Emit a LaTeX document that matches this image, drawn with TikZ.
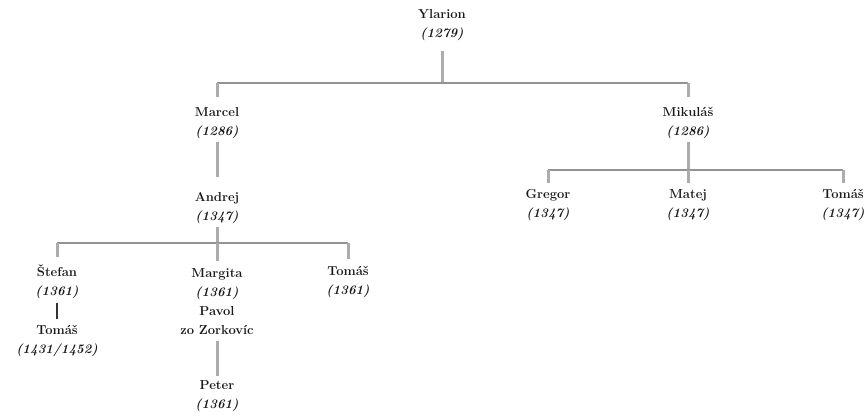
\documentclass[tikz,border=0pt]{standalone}
\begin{document}
\begin{tikzpicture}[x=1pt,y=-1pt,
  person/.style={align=center, inner sep=0pt, text=black!90, font=\fontsize{13}{19}\selectfont\bfseries},
  vline/.style={draw=gray!65, line width=3pt},
  hline/.style={draw=gray!85, line width=1.1pt},
  sline/.style={draw=black!80, line width=1.3pt}]
\useasboundingbox (0,0) rectangle (864,418);
% persons
\node[person] (yl) at (442,25) {Ylarion\\\textit{(1279)}};
\node[person] (marcel) at (217,123) {Marcel\\\textit{(1286)}};
\node[person] (mikulas) at (688,123) {Mikuláš\\\textit{(1286)}};
\node[person] (andrej) at (217,208) {Andrej\\\textit{(1347)}};
\node[person] (stefan) at (57,282) {Štefan\\\textit{(1361)}};
\node[person] (margita) at (217,301.5) {Margita\\\textit{(1361)}\\Pavol\\zo Zorkovíc};
\node[person] (tomasA) at (348,282) {Tomáš\\\textit{(1361)}};
\node[person] (tomasB) at (57,341) {Tomáš\\\textit{(1431/1452)}};
\node[person] (peter) at (217,396) {Peter\\\textit{(1361)}};
\node[person] (gregor) at (548,205) {Gregor\\\textit{(1347)}};
\node[person] (matej) at (688,205) {Matej\\\textit{(1347)}};
\node[person] (tomasC) at (843,205) {Tomáš\\\textit{(1347)}};
% junctions
\coordinate (j1) at (442,83);
\coordinate (j2) at (217,243);
\coordinate (j3) at (688,170);
% Ylarion family
\draw[vline, shorten <=10.5pt] (yl.south) -- (j1);
\draw[hline] (marcel.north |- j1) -- (mikulas.north |- j1);
\draw[vline, shorten >=10.5pt] (marcel.north |- j1) -- (marcel.north);
\draw[vline, shorten >=10.5pt] (mikulas.north |- j1) -- (mikulas.north);
% Marcel line
\draw[vline, shorten <=3.5pt, shorten >=15.5pt] (marcel.south) -- (andrej.north);
\draw[vline, shorten <=3.5pt] (andrej.south) -- (j2);
\draw[hline] (stefan.north |- j2) -- (tomasA.north |- j2);
\draw[vline, shorten >=7.5pt] (stefan.north |- j2) -- (stefan.north);
\draw[vline, shorten >=7pt] (j2) -- (margita.north);
\draw[vline, shorten >=7.5pt] (tomasA.north |- j2) -- (tomasA.north);
\draw[sline, shorten <=3.5pt, shorten >=6.5pt] (stefan.south) -- (tomasB.north);
\draw[vline, shorten <=6pt, shorten >=4.5pt] (margita.south) -- (peter.north);
% Mikulas line
\draw[vline, shorten <=3.5pt] (mikulas.south) -- (j3);
\draw[hline] (gregor.north |- j3) -- (tomasC.north |- j3);
\draw[vline, shorten >=6.5pt] (gregor.north |- j3) -- (gregor.north);
\draw[vline, shorten >=6.5pt] (j3) -- (matej.north);
\draw[vline, shorten >=6.5pt] (tomasC.north |- j3) -- (tomasC.north);
\end{tikzpicture}
\end{document}
